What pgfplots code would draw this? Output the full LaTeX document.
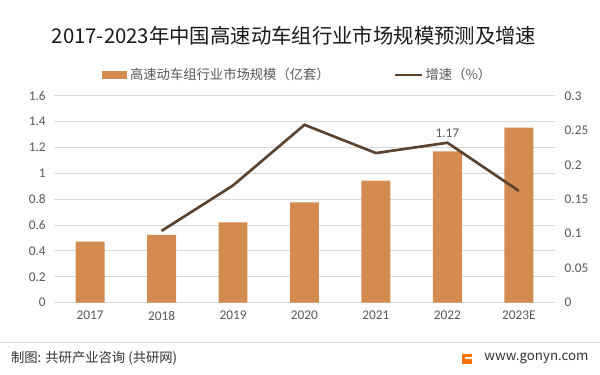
\documentclass[border=0pt]{standalone}
\usepackage{pgfplots}
\pgfplotsset{compat=1.18}
\usepackage{fontspec}
\setmainfont{Carlito}
\newfontfamily\cjk{Noto Sans CJK SC}
\definecolor{barc}{HTML}{D38B4F}
\definecolor{linec}{HTML}{5B4330}
\definecolor{txt}{HTML}{595959}
\definecolor{gridc}{HTML}{D9D9D9}

\pgfplotstableread{
x size
0 0.471
1 0.525
2 0.620
3 0.775
4 0.945
5 1.17
6 1.355
}\sizedata
\pgfplotstableread{
x rate
1 0.104
2 0.170
3 0.258
4 0.217
5 0.232
6 0.162
}\ratedata

\begin{document}
\begin{tikzpicture}[x=0.75pt,y=-0.75pt]
\fill[white] (0,0) rectangle (600,375);
\node[font=\cjk\fontsize{15.3}{17}\selectfont, text=black!90] at (294,36) {2017-2023年中国高速动车组行业市场规模预测及增速};
\begin{axis}[
  at={(40.5pt,-227.25pt)}, anchor=south west,
  scale only axis, width=375.75pt, height=155.25pt,
  xmin=-0.5, xmax=6.5, ymin=0, ymax=1.6,
  ytick={0,0.2,0.4,0.6,0.8,1,1.2,1.4,1.6},
  yticklabels={0,0.2,0.4,0.6,0.8,1,1.2,1.4,1.6},
  scaled y ticks=false,
  xtick={0,1,2,3,4,5,6},
  xticklabels={2017,2018,2019,2020,2021,2022,2023E},
  axis line style={draw=none},
  major tick length=0pt,
  ymajorgrids, grid style={gridc, line width=0.8pt},
  ticklabel style={font=\fontsize{10}{11}\selectfont, text=txt},
  yticklabel style={xshift=-3pt},
  xticklabel style={yshift=-3pt},
  legend style={at={(0.487,1.101)}, anchor=center, draw=none, fill=none,
    legend columns=2, font=\cjk\fontsize{10}{12}\selectfont, text=txt,
    /tikz/every even column/.append style={column sep=46pt}},
]
\addplot[ybar, bar width=21.75pt, fill=barc, draw=none,
  legend image code/.code={\fill[barc] (0pt,-3pt) rectangle (19pt,3pt);}]
  table[x=x, y=size] {\sizedata};
\addlegendentry{高速动车组行业市场规模（亿套）}
\addlegendimage{legend image code/.code={\draw[linec, line width=2pt] (0pt,0pt) -- (20pt,0pt);}}
\addlegendentry{增速（\%）}
\end{axis}
\begin{axis}[
  at={(40.5pt,-227.25pt)}, anchor=south west,
  scale only axis, width=375.75pt, height=155.25pt,
  xmin=-0.5, xmax=6.5, ymin=0, ymax=0.3,
  axis x line=none, axis y line*=right,
  axis line style={draw=none},
  ytick={0,0.05,0.1,0.15,0.2,0.25,0.3},
  yticklabels={0,0.05,0.1,0.15,0.2,0.25,0.3},
  scaled y ticks=false,
  major tick length=0pt,
  ticklabel style={font=\fontsize{10}{11}\selectfont, text=txt},
  yticklabel style={xshift=4pt},
]
\addplot[linec, line width=2pt, mark=none] table[x=x, y=rate] {\ratedata};
\node[font=\fontsize{10}{11}\selectfont, text=txt, anchor=south] at (axis cs:5,0.233) {1.17};
\end{axis}
\draw[gridc, line width=0.6pt] (0,343) -- (600,343);
\node[anchor=west, font=\cjk\fontsize{10}{12}\selectfont, text=black!80] at (6,359) {制图: 共研产业咨询 (共研网)};
\fill[orange!90!red] (462,354) rectangle (472,364);
\fill[white] (465,357) rectangle (472,359);
\node[anchor=west, font=\cjk\fontsize{10}{12}\selectfont, text=black!80] at (480,359) {www.gonyn.com};
\end{tikzpicture}
\end{document}
